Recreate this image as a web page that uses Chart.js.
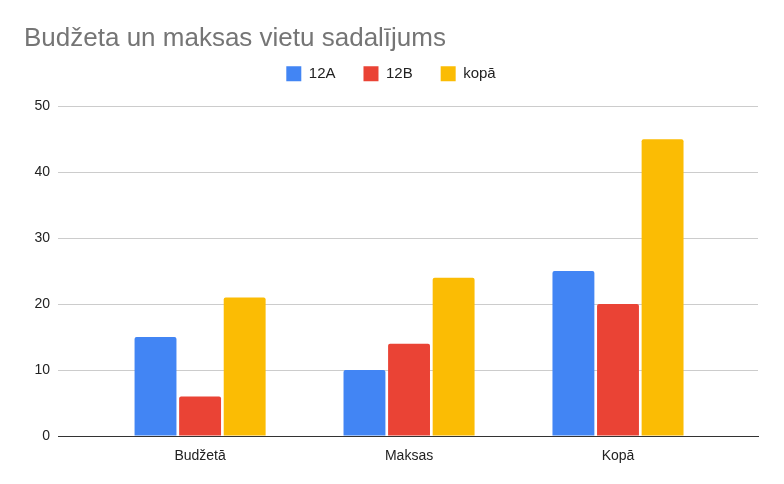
<!DOCTYPE html>
<html>
<head>
<meta charset="utf-8">
<script src="https://cdn.jsdelivr.net/npm/chart.js@4"></script>
<style>
  html, body { margin: 0; padding: 0; background: #fff; }
  #wrap { width: 784px; height: 484px; }
</style>
</head>
<body>
<div id="wrap"><canvas id="chart"></canvas></div>
<script>
const categories = ["Budžetā", "Maksas", "Kopā"];
const seriesNames = ["12A", "12B", "kopā"];
const values12A = [15, 10, 25];
const values12B = [6, 14, 20];
const valuesTotal = [21, 24, 45];
const yTicks = [0, 10, 20, 30, 40, 50];

const colors = ["#4285f4", "#ea4335", "#fbbc04"];
const allValues = [values12A, values12B, valuesTotal];
const FONT = "'Liberation Sans', Arial, sans-serif";

const datasets = seriesNames.map((name, i) => ({
  label: name,
  data: allValues[i],
  backgroundColor: colors[i],
  borderRadius: 2,
  borderSkipped: "bottom",
  barPercentage: 0.94,
  categoryPercentage: 0.64
}));

// legendas augstums fiksēts, lai diagramma sāktos vietā
const legendSpace = {
  id: "legendSpace",
  beforeInit(chart) {
    const fit = chart.legend.fit;
    chart.legend.fit = function () {
      fit.call(this);
      this.height = 68;
    };
  }
};

new Chart(document.getElementById("chart"), {
  type: "bar",
  data: { labels: categories, datasets },
  plugins: [legendSpace],
  options: {
    responsive: true,
    maintainAspectRatio: false,
    animation: false,
    layout: { padding: { left: 24, right: 26, top: 0, bottom: 0 } },
    plugins: {
      title: {
        display: true,
        text: "Budžeta un maksas vietu sadalījums",
        align: "start",
        color: "#757575",
        font: { family: FONT, size: 26, weight: "normal" },
        padding: { top: 23, bottom: -16 }
      },
      legend: {
        position: "top",
        labels: {
          color: "#222",
          font: { family: FONT, size: 15 },
          boxWidth: 15,
          boxHeight: 15,
          padding: 28
        }
      },
      tooltip: { enabled: false }
    },
    scales: {
      x: {
        grid: { display: false },
        border: { color: "#333", width: 1 },
        ticks: { color: "#222", font: { family: FONT, size: 14 }, padding: 4 },
        afterBuildTicks: s => {
          // kategorijas tiek izvietotas ar atstarpi no malām, kā oriģinālā
          s.ticks = categories.map((c, i) => ({ value: i }));
          s._startValue = -0.68;
          s._valueRange = 3.35;
        },
        afterFit: s => { s.height = 48; }
      },
      y: {
        min: 0,
        max: 50,
        afterBuildTicks: s => { s.ticks = yTicks.map(v => ({ value: v })); },
        grid: {
          color: c => (c.tick && c.tick.value === 0 ? "#333" : "#cccccc"),
          drawTicks: false
        },
        border: { display: false },
        ticks: { color: "#222", font: { family: FONT, size: 14 }, padding: 8 },
        afterFit: s => { s.width = 34; }
      }
    }
  }
});
</script>
</body>
</html>
